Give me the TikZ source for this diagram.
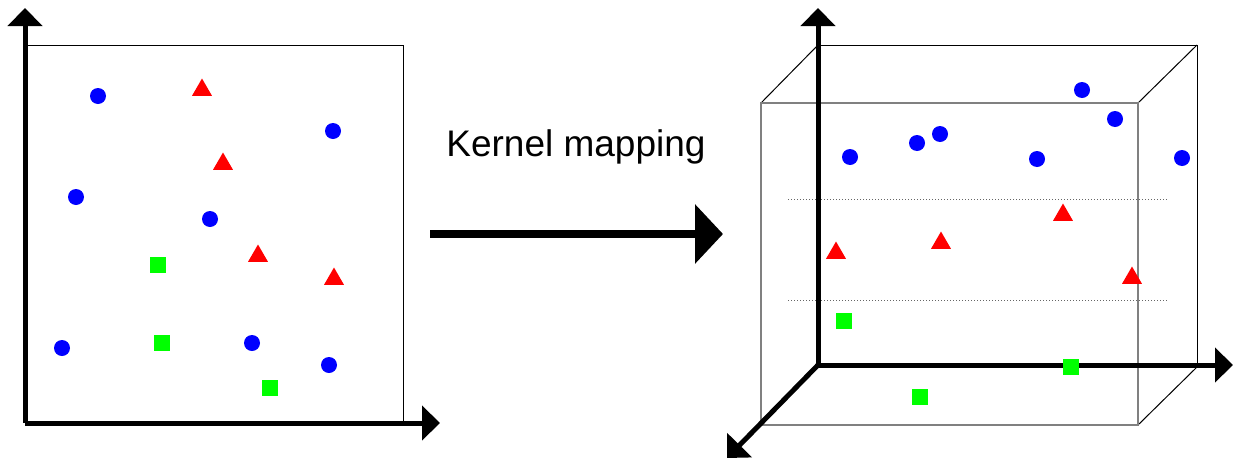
\documentclass[tikz,border=0pt]{standalone}
\usepackage{fontspec}
\setmainfont{Liberation Sans}
\usetikzlibrary{arrows.meta,shapes.geometric}

\tikzset{
  dot/.style={circle,fill=blue,inner sep=0pt,minimum size=16pt},
  tri/.style={regular polygon,regular polygon sides=3,fill=red,inner sep=0pt,minimum size=23pt},
  sq/.style={rectangle,fill=green,inner sep=0pt,minimum size=16pt},
  axis/.style={line width=5pt,-{Triangle[width=34pt,length=18pt]}},
  frame/.style={line width=1pt},
  front/.style={line width=1.2pt,gray}
}

\begin{document}
\begin{tikzpicture}[x=1pt,y=-1pt]
    \useasboundingbox (0,0) rectangle (1235,461);

    % left plane
    \coordinate (O) at (25,423); \coordinate (Ytop) at (25,8); \coordinate (Xend) at (440,423);
    \coordinate (TL) at (25,45); \coordinate (TR) at (403,45); \coordinate (BR) at (403,423);

    \draw[frame] (TL) -- (TR) -- (BR);
    \draw[axis] (O) -- (Ytop); \draw[axis] (O) -- (Xend);

    \node[dot] (a1) at (98,96) {}; \node[dot] (a2) at (333,131) {};
    \node[dot] (a3) at (76,197) {}; \node[dot] (a4) at (210,219) {};
    \node[dot] (a5) at (62,348) {}; \node[dot] (a6) at (252,343) {};
    \node[dot] (a7) at (329,365) {};

    \node[tri] (b1) at (202,90) {}; \node[tri] (b2) at (223,164) {};
    \node[tri] (b3) at (258,256) {}; \node[tri] (b4) at (334,279) {};

    \node[sq] (c1) at (158,265) {}; \node[sq] (c2) at (162,343) {};
    \node[sq] (c3) at (270,388) {};

    % mapping
    \coordinate (M1) at (430,234); \coordinate (M2) at (723,234);
    \draw[line width=8pt,-{Triangle[width=58pt,length=28pt]}] (M1) -- (M2);
    \node (label) at (576,147) {\fontsize{37}{44}\selectfont Kernel mapping};

    % feature space
    \coordinate (P) at (818,365); \coordinate (Ptop) at (818,8);
    \coordinate (Pright) at (1233,365); \coordinate (Pdiag) at (727,458);
    \coordinate (K1) at (818,45); \coordinate (K2) at (1197,45); \coordinate (K3) at (1197,367);
    \coordinate (F1) at (761,103); \coordinate (F2) at (1138,103);
    \coordinate (F3) at (1138,425); \coordinate (F4) at (761,425);

    \draw[frame] (K1) -- (K2) -- (K3);
    \draw[frame] (K1) -- (F1); \draw[frame] (K2) -- (F2); \draw[frame] (K3) -- (F3);
    \draw[front] (F1) -- (F2) -- (F3) -- (F4) -- cycle;

    \coordinate (D1) at (788,199); \coordinate (D2) at (1168,199);
    \coordinate (D3) at (788,300); \coordinate (D4) at (1168,300);
    \draw[dotted,line width=1pt,gray!80!black] (D1) -- (D2); \draw[dotted,line width=1pt,gray!80!black] (D3) -- (D4);

    \draw[axis] (P) -- (Ptop); \draw[axis] (P) -- (Pright); \draw[axis] (P) -- (Pdiag);

    \node[dot] (d1) at (850,157) {}; \node[dot] (d2) at (917,143) {};
    \node[dot] (d3) at (940,134) {}; \node[dot] (d4) at (1037,159) {};
    \node[dot] (d5) at (1082,90) {}; \node[dot] (d6) at (1115,119) {};
    \node[dot] (d7) at (1182,158) {};

    \node[tri] (e1) at (836,253) {}; \node[tri] (e2) at (941,243) {};
    \node[tri] (e3) at (1063,215) {}; \node[tri] (e4) at (1132,278) {};

    \node[sq] (f1) at (844,321) {}; \node[sq] (f2) at (920,397) {};
    \node[sq] (f3) at (1071,367) {};
  \end{tikzpicture}
\end{document}
